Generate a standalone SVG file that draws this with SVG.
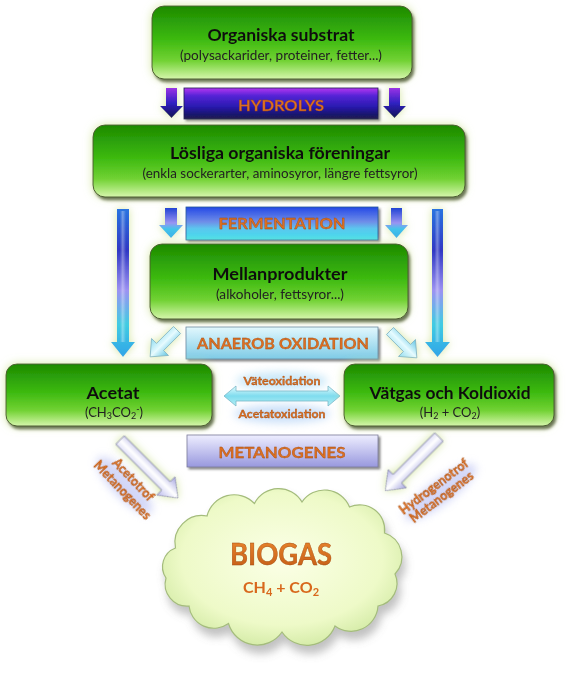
<svg xmlns="http://www.w3.org/2000/svg" width="566" height="692" viewBox="0 0 566 692">
<style>
.t{font-family:Lato,"Open Sans","Liberation Sans",sans-serif;text-anchor:middle}
.ti{font-size:17px;font-weight:bold;fill:#111}
.su{font-size:13px;fill:#222}
.or{font-weight:bold;fill:#dc6e20;stroke:#9a4a12;stroke-width:0.3}
.bar{font-size:16px}
.sm{font-size:12px}
.box{fill:url(#gBox);stroke:#4d5f32;stroke-width:1}
</style>
<defs>
<linearGradient id="gBox" x1="0" y1="0" x2="0" y2="1">
<stop offset="0" stop-color="#1d8a02"/><stop offset="0.45" stop-color="#3cb90f"/><stop offset="0.75" stop-color="#72d234"/><stop offset="1" stop-color="#d6f6ac"/>
</linearGradient>
<linearGradient id="gHyd" x1="0" y1="0" x2="0" y2="1">
<stop offset="0" stop-color="#b535f2"/><stop offset="0.25" stop-color="#5524d6"/><stop offset="0.6" stop-color="#2a1ab0"/><stop offset="1" stop-color="#0f0f48"/>
</linearGradient>
<linearGradient id="gFer" x1="0" y1="0" x2="0" y2="1">
<stop offset="0" stop-color="#2448e6"/><stop offset="0.45" stop-color="#6f8ee8"/><stop offset="0.65" stop-color="#5cc6ee"/><stop offset="1" stop-color="#3fe0ee"/>
</linearGradient>
<linearGradient id="gAna" x1="0" y1="0" x2="0" y2="1">
<stop offset="0" stop-color="#e2f8fe"/><stop offset="1" stop-color="#7ecbe6"/>
</linearGradient>
<linearGradient id="gMet" x1="0" y1="0" x2="0" y2="1">
<stop offset="0" stop-color="#eeeeff"/><stop offset="1" stop-color="#9898de"/>
</linearGradient>
<linearGradient id="gHydA" x1="0" y1="0" x2="0" y2="1">
<stop offset="0" stop-color="#9a32e6"/><stop offset="0.5" stop-color="#3022c2"/><stop offset="1" stop-color="#101052"/>
</linearGradient>
<linearGradient id="gFerA" x1="0" y1="0" x2="0" y2="1">
<stop offset="0" stop-color="#2244d4"/><stop offset="0.5" stop-color="#9a94f2"/><stop offset="0.7" stop-color="#44c4ea"/><stop offset="1" stop-color="#36b0ea"/>
</linearGradient>
<linearGradient id="gLong" x1="0" y1="0" x2="0" y2="1">
<stop offset="0" stop-color="#2a74e0"/><stop offset="0.28" stop-color="#3038c4"/><stop offset="0.55" stop-color="#9c92f2"/><stop offset="0.78" stop-color="#40cce2"/><stop offset="1" stop-color="#30a4e8"/>
</linearGradient>
<linearGradient id="gHi" x1="0" y1="0" x2="1" y2="0">
<stop offset="0" stop-color="#fff" stop-opacity="0"/><stop offset="0.45" stop-color="#fff" stop-opacity="0.35"/><stop offset="1" stop-color="#fff" stop-opacity="0"/>
</linearGradient>
<linearGradient id="gDiagC" x1="0" y1="0" x2="1" y2="0">
<stop offset="0" stop-color="#8fdcef"/><stop offset="0.5" stop-color="#e6fbff"/><stop offset="1" stop-color="#5ec4e2"/>
</linearGradient>
<linearGradient id="gDiagM" x1="0" y1="0" x2="1" y2="0">
<stop offset="0" stop-color="#b8b8ec"/><stop offset="0.5" stop-color="#ffffff"/><stop offset="1" stop-color="#a4a4e0"/>
</linearGradient>
<linearGradient id="gDbl" x1="0" y1="0" x2="0" y2="1">
<stop offset="0" stop-color="#e4fcff"/><stop offset="0.5" stop-color="#7fdcee"/><stop offset="1" stop-color="#b4f0f6"/>
</linearGradient>
<radialGradient id="gCloud" cx="0.5" cy="0.45" r="0.6">
<stop offset="0" stop-color="#fbffe6"/><stop offset="0.7" stop-color="#eefac8"/><stop offset="1" stop-color="#cfe8a0"/>
</radialGradient>
<linearGradient id="gBio" x1="0" y1="0" x2="0" y2="1">
<stop offset="0" stop-color="#ee8a30"/><stop offset="1" stop-color="#c25a14"/>
</linearGradient>
<filter id="fx" x="-15%" y="-30%" width="130%" height="170%">
<feGaussianBlur in="SourceAlpha" stdDeviation="5" result="b"/>
<feFlood flood-color="#d2e59e" flood-opacity="0.9"/>
<feComposite in2="b" operator="in" result="glow"/>
<feGaussianBlur in="SourceAlpha" stdDeviation="1.4" result="b2"/>
<feOffset in="b2" dx="2" dy="3" result="o"/>
<feFlood flood-color="#3a4626" flood-opacity="0.8"/>
<feComposite in2="o" operator="in" result="sh"/>
<feMerge><feMergeNode in="glow"/><feMergeNode in="sh"/><feMergeNode in="SourceGraphic"/></feMerge>
</filter>
<filter id="fbar" x="-10%" y="-30%" width="120%" height="170%">
<feGaussianBlur in="SourceAlpha" stdDeviation="1.2" result="b2"/>
<feOffset in="b2" dx="1.5" dy="2" result="o"/>
<feFlood flood-color="#333" flood-opacity="0.6"/>
<feComposite in2="o" operator="in" result="sh"/>
<feMerge><feMergeNode in="sh"/><feMergeNode in="SourceGraphic"/></feMerge>
</filter>
<filter id="fglow" x="-50%" y="-50%" width="200%" height="200%">
<feGaussianBlur in="SourceAlpha" stdDeviation="4" result="b"/>
<feFlood flood-color="#d2e59e" flood-opacity="0.95"/>
<feComposite in2="b" operator="in" result="glow"/>
<feMerge><feMergeNode in="glow"/><feMergeNode in="SourceGraphic"/></feMerge>
</filter>
<filter id="fcloud" x="-10%" y="-10%" width="125%" height="135%">
<feGaussianBlur in="SourceAlpha" stdDeviation="4" result="b"/>
<feOffset in="b" dx="3" dy="8" result="o"/>
<feFlood flood-color="#777" flood-opacity="0.45"/>
<feComposite in2="o" operator="in" result="sh"/>
<feMerge><feMergeNode in="sh"/><feMergeNode in="SourceGraphic"/></feMerge>
</filter>
<filter id="fsoft" x="-50%" y="-80%" width="200%" height="260%">
<feGaussianBlur stdDeviation="4"/>
</filter>
</defs>
<rect width="566" height="692" fill="#fff"/>

<g id="connectors">
<g filter="url(#fglow)">
<path d="M166,88 H177 V106 H183 L171.5,118 L160,106 H166 Z" fill="url(#gHydA)"/>
<path d="M389,88 H400 V106 H406 L394.5,118 L383,106 H389 Z" fill="url(#gHydA)"/>
<path d="M165,208 H177 V225 H183 L171,238 L159,225 H165 Z" fill="url(#gFerA)"/>
<path d="M391,208 H402 V225 H408 L396.5,238 L385,225 H391 Z" fill="url(#gFerA)"/>
<path d="M117,209 H129 V342 H135 L123,357 L111,342 H117 Z" fill="url(#gLong)"/>
<path d="M432,209 H443 V342 H450 L437.5,357 L425,342 H432 Z" fill="url(#gLong)"/>
<path d="M-5,0 H5 V24 H12 L0,38 L-12,24 H-5 Z" transform="translate(177,330) rotate(45)" fill="url(#gDiagC)" stroke="#7fb2c4" stroke-width="0.8"/>
<path d="M-5,0 H5 V24 H12 L0,38 L-12,24 H-5 Z" transform="translate(390,331) rotate(-45)" fill="url(#gDiagC)" stroke="#7fb2c4" stroke-width="0.8"/>
<path d="M-6,0 H6 V65 H13 L0,82 L-13,65 H-6 Z" transform="translate(120,440) rotate(-45)" fill="url(#gDiagM)" stroke="#8a8aa8" stroke-width="0.8"/>
<path d="M-6,0 H6 V59 H13 L0,76 L-13,59 H-6 Z" transform="translate(439,437) rotate(45)" fill="url(#gDiagM)" stroke="#8a8aa8" stroke-width="0.8"/>
</g>
<path d="M120,211 H126 V342 H120 Z" fill="url(#gHi)"/>
<path d="M434.5,211 H440.5 V342 H434.5 Z" fill="url(#gHi)"/>
<ellipse cx="282" cy="381" rx="46" ry="9" fill="#9fd6f4" opacity="0.55" filter="url(#fsoft)"/>
<ellipse cx="282" cy="414" rx="48" ry="9" fill="#9fc6f4" opacity="0.55" filter="url(#fsoft)"/>
<path d="M224,396 L236,386 L236,391 L328,391 L328,386 L340,396 L328,406 L328,401 L236,401 L236,406 Z" fill="url(#gDbl)" stroke="#7ab8c8" stroke-width="0.8"/>
<text class="t or sm" x="282" y="385" textLength="77" lengthAdjust="spacingAndGlyphs">Väteoxidation</text>
<text class="t or sm" x="282" y="418" textLength="87" lengthAdjust="spacingAndGlyphs">Acetatoxidation</text>
<g transform="translate(133,480) rotate(46)">
<ellipse cx="-2" cy="10" rx="38" ry="12" fill="#a8b0f0" opacity="0.5" filter="url(#fsoft)"/>
<text class="t or" font-size="12.5" stroke-width="0.5" x="0" y="4">Acetotrof</text>
<text class="t or" font-size="12.5" stroke-width="0.5" x="0" y="19">Metanogenes</text>
</g>
<g transform="translate(434,487) rotate(-37)">
<ellipse cx="2" cy="8" rx="44" ry="12" fill="#a8b0f0" opacity="0.5" filter="url(#fsoft)"/>
<text class="t or" font-size="12.5" stroke-width="0.5" x="0" y="4">Hydrogenotrof</text>
<text class="t or" font-size="12.5" stroke-width="0.5" x="0" y="17">Metanogenes</text>
</g>
</g>

<g id="hydrolys" filter="url(#fbar)">
<rect x="184" y="88" width="194" height="31" fill="url(#gHyd)" stroke="#1a1a50" stroke-width="0.8"/>
<text class="t or bar" x="281" y="111" textLength="86" lengthAdjust="spacingAndGlyphs">HYDROLYS</text>
</g>
<g id="fermentation" filter="url(#fbar)">
<rect x="186" y="207" width="192" height="33" fill="url(#gFer)" stroke="#2a5a9a" stroke-width="0.8"/>
<text class="t or bar" x="282" y="229" textLength="127" lengthAdjust="spacingAndGlyphs">FERMENTATION</text>
</g>
<g id="anaerob" filter="url(#fbar)">
<rect x="186" y="327" width="192" height="32" fill="url(#gAna)" stroke="#6a8aa0" stroke-width="0.8"/>
<text class="t or bar" x="283" y="349" textLength="172" lengthAdjust="spacingAndGlyphs">ANAEROB OXIDATION</text>
</g>
<g id="metanogenes" filter="url(#fbar)">
<rect x="187" y="435" width="191" height="32" fill="url(#gMet)" stroke="#7a7a9a" stroke-width="0.8"/>
<text class="t or bar" x="282" y="458" textLength="127" lengthAdjust="spacingAndGlyphs">METANOGENES</text>
</g>

<g id="organiska" filter="url(#fx)">
<rect class="box" x="152" y="6" width="260" height="73" rx="12"/>
<text class="t ti" x="281" y="41" textLength="147" lengthAdjust="spacingAndGlyphs">Organiska substrat</text>
<text class="t su" x="281" y="60" textLength="202" lengthAdjust="spacingAndGlyphs">(polysackarider, proteiner, fetter...)</text>
</g>
<g id="losliga" filter="url(#fx)">
<rect class="box" x="93" y="125" width="372" height="72" rx="12"/>
<text class="t ti" x="280" y="159" textLength="220" lengthAdjust="spacingAndGlyphs">Lösliga organiska föreningar</text>
<text class="t su" x="280" y="178" textLength="275" lengthAdjust="spacingAndGlyphs">(enkla sockerarter, aminosyror, längre fettsyror)</text>
</g>
<g id="mellan" filter="url(#fx)">
<rect class="box" x="150" y="244" width="258" height="75" rx="12"/>
<text class="t ti" x="280" y="280" textLength="135" lengthAdjust="spacingAndGlyphs">Mellanprodukter</text>
<text class="t su" x="280" y="299" textLength="128" lengthAdjust="spacingAndGlyphs">(alkoholer, fettsyror...)</text>
</g>
<g id="acetat" filter="url(#fx)">
<rect class="box" x="6" y="364" width="206" height="62" rx="11"/>
<text class="t ti" x="113" y="399" textLength="53" lengthAdjust="spacingAndGlyphs">Acetat</text>
<text class="t su" x="114" y="417">(CH<tspan font-size="9" dy="2">3</tspan><tspan dy="-2">CO</tspan><tspan font-size="9" dy="2">2</tspan><tspan font-size="9" dy="-7">-</tspan><tspan dy="5">)</tspan></text>
</g>
<g id="vatgas" filter="url(#fx)">
<rect class="box" x="344" y="364" width="210" height="62" rx="11"/>
<text class="t ti" x="450" y="399" textLength="161" lengthAdjust="spacingAndGlyphs">Vätgas och Koldioxid</text>
<text class="t su" x="450" y="417">(H<tspan font-size="9" dy="2">2</tspan><tspan dy="-2"> + CO</tspan><tspan font-size="9" dy="2">2</tspan><tspan dy="-2">)</tspan></text>
</g>
<g id="biogas">
<path filter="url(#fcloud)" fill="url(#gCloud)" stroke="#a4bc7c" stroke-width="1.2" d="M175.5,548 A27,27 0 0 1 207,516 A28,28 0 0 1 254.5,503.5 A27,27 0 0 1 302,502 A27,27 0 0 1 349.5,507 A25,25 0 0 1 384.5,533 A25,25 0 0 1 395,574 A23,23 0 0 1 378,606 A27,27 0 0 1 335,626 A30,30 0 0 1 282,632 A30,30 0 0 1 228.5,623.5 A25,25 0 0 1 189,606 A22,22 0 0 1 166,578 A20,20 0 0 1 175.5,548 Z"/>
<text class="t" x="281" y="565" font-size="30" font-weight="bold" fill="url(#gBio)" stroke="#a04a10" stroke-width="0.4" textLength="102" lengthAdjust="spacingAndGlyphs">BIOGAS</text>
<text class="t" x="281" y="593" font-size="16" font-weight="bold" fill="#d8681c">CH<tspan font-size="11" dy="3">4</tspan><tspan dy="-3"> + CO</tspan><tspan font-size="11" dy="3">2</tspan></text>
</g>
</svg>
